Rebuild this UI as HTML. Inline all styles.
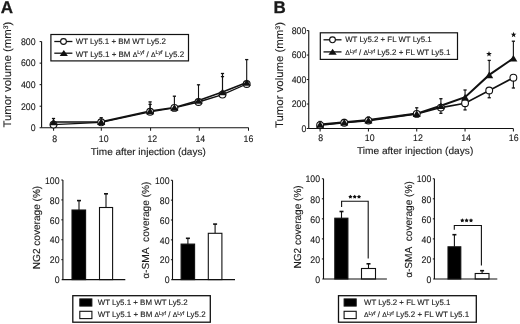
<!DOCTYPE html><html><head><meta charset="utf-8"><style>html,body{margin:0;padding:0;background:#fff;}svg{display:block;filter:grayscale(1);}text{font-family:"Liberation Sans",sans-serif;text-rendering:geometricPrecision;fill:#1a1a1a;stroke:#1a1a1a;stroke-width:0.12px;}</style></head><body>
<svg width="520" height="324" viewBox="0 0 520 324">
<rect width="520" height="324" fill="#fff"/>
<text x="0.80" y="13.30" font-size="17" text-anchor="start" font-weight="bold" style="stroke-width:0.3px">A</text>
<text x="273.60" y="13.00" font-size="17" text-anchor="start" font-weight="bold" style="stroke-width:0.3px">B</text>
<line x1="41.60" y1="41.60" x2="41.60" y2="127.75" stroke="#111" stroke-width="1.1"/>
<line x1="39.60" y1="127.75" x2="41.60" y2="127.75" stroke="#111" stroke-width="1"/>
<text transform="translate(35.60,131.05) scale(0.92,1)" font-size="9.5" text-anchor="end">0</text>
<line x1="39.60" y1="106.21" x2="41.60" y2="106.21" stroke="#111" stroke-width="1"/>
<text transform="translate(35.60,109.51) scale(0.92,1)" font-size="9.5" text-anchor="end">200</text>
<line x1="39.60" y1="84.67" x2="41.60" y2="84.67" stroke="#111" stroke-width="1"/>
<text transform="translate(35.60,87.97) scale(0.92,1)" font-size="9.5" text-anchor="end">400</text>
<line x1="39.60" y1="63.14" x2="41.60" y2="63.14" stroke="#111" stroke-width="1"/>
<text transform="translate(35.60,66.44) scale(0.92,1)" font-size="9.5" text-anchor="end">600</text>
<line x1="39.60" y1="41.60" x2="41.60" y2="41.60" stroke="#111" stroke-width="1"/>
<text transform="translate(35.60,44.90) scale(0.92,1)" font-size="9.5" text-anchor="end">800</text>
<line x1="41.60" y1="127.75" x2="248.60" y2="127.75" stroke="#111" stroke-width="1.2"/>
<line x1="53.60" y1="127.75" x2="53.60" y2="130.75" stroke="#111" stroke-width="1"/>
<text transform="translate(54.70,141.80) scale(0.92,1)" font-size="9.5" text-anchor="middle">8</text>
<line x1="101.30" y1="127.75" x2="101.30" y2="130.75" stroke="#111" stroke-width="1"/>
<text transform="translate(103.70,141.80) scale(0.92,1)" font-size="9.5" text-anchor="middle">10</text>
<line x1="150.60" y1="127.75" x2="150.60" y2="130.75" stroke="#111" stroke-width="1"/>
<text transform="translate(152.30,141.80) scale(0.92,1)" font-size="9.5" text-anchor="middle">12</text>
<line x1="199.30" y1="127.75" x2="199.30" y2="130.75" stroke="#111" stroke-width="1"/>
<text transform="translate(200.30,141.80) scale(0.92,1)" font-size="9.5" text-anchor="middle">14</text>
<line x1="248.50" y1="127.75" x2="248.50" y2="130.75" stroke="#111" stroke-width="1"/>
<text transform="translate(248.40,141.80) scale(0.92,1)" font-size="9.5" text-anchor="middle">16</text>
<text transform="translate(11.1,127.6) rotate(-90)" font-size="10.9" textLength="106" lengthAdjust="spacingAndGlyphs">Tumor volume (mm<tspan font-size="6.6" dy="-3.4">3</tspan><tspan dy="3.4">)</tspan></text>
<text x="90.80" y="154.75" font-size="9.9" text-anchor="start" font-weight="normal" textLength="115.0" lengthAdjust="spacingAndGlyphs">Time after injection (days)</text>
<line x1="53.50" y1="122.00" x2="53.50" y2="118.50" stroke="#111" stroke-width="1.1"/>
<line x1="51.90" y1="118.50" x2="55.10" y2="118.50" stroke="#111" stroke-width="1.3"/>
<line x1="101.20" y1="121.80" x2="101.20" y2="117.70" stroke="#111" stroke-width="1.1"/>
<line x1="99.60" y1="117.70" x2="102.80" y2="117.70" stroke="#111" stroke-width="1.3"/>
<line x1="150.10" y1="111.00" x2="150.10" y2="101.90" stroke="#111" stroke-width="1.1"/>
<line x1="148.50" y1="101.90" x2="151.70" y2="101.90" stroke="#111" stroke-width="1.3"/>
<line x1="150.10" y1="111.00" x2="150.10" y2="104.40" stroke="#111" stroke-width="1.1"/>
<line x1="148.50" y1="104.40" x2="151.70" y2="104.40" stroke="#111" stroke-width="1.3"/>
<line x1="174.40" y1="107.50" x2="174.40" y2="96.20" stroke="#111" stroke-width="1.1"/>
<line x1="172.80" y1="96.20" x2="176.00" y2="96.20" stroke="#111" stroke-width="1.3"/>
<line x1="198.50" y1="100.50" x2="198.50" y2="84.80" stroke="#111" stroke-width="1.1"/>
<line x1="196.90" y1="84.80" x2="200.10" y2="84.80" stroke="#111" stroke-width="1.3"/>
<line x1="222.50" y1="92.00" x2="222.50" y2="73.50" stroke="#111" stroke-width="1.1"/>
<line x1="220.90" y1="73.50" x2="224.10" y2="73.50" stroke="#111" stroke-width="1.3"/>
<line x1="222.50" y1="92.00" x2="222.50" y2="76.60" stroke="#111" stroke-width="1.1"/>
<line x1="220.90" y1="76.60" x2="224.10" y2="76.60" stroke="#111" stroke-width="1.3"/>
<line x1="246.70" y1="82.50" x2="246.70" y2="59.60" stroke="#111" stroke-width="1.1"/>
<line x1="245.10" y1="59.60" x2="248.30" y2="59.60" stroke="#111" stroke-width="1.3"/>
<polyline points="53.50,124.60 101.20,122.30 150.10,111.80 174.40,107.90 198.50,102.00 222.50,94.60 246.70,84.00" fill="none" stroke="#111" stroke-width="1.35"/>
<polyline points="53.50,122.00 101.20,121.80 150.10,111.00 174.40,107.50 198.50,100.50 222.50,92.00 246.70,82.50" fill="none" stroke="#111" stroke-width="1.7"/>
<circle cx="53.50" cy="124.60" r="3.4" fill="#fff" stroke="#111" stroke-width="1.1"/>
<circle cx="101.20" cy="122.30" r="3.4" fill="#fff" stroke="#111" stroke-width="1.1"/>
<circle cx="150.10" cy="111.80" r="3.4" fill="#fff" stroke="#111" stroke-width="1.1"/>
<circle cx="174.40" cy="107.90" r="3.4" fill="#fff" stroke="#111" stroke-width="1.1"/>
<circle cx="198.50" cy="102.00" r="3.4" fill="#fff" stroke="#111" stroke-width="1.1"/>
<circle cx="222.50" cy="94.60" r="3.4" fill="#fff" stroke="#111" stroke-width="1.1"/>
<circle cx="246.70" cy="84.00" r="3.4" fill="#fff" stroke="#111" stroke-width="1.1"/>
<path d="M49.40 125.30 L53.50 118.70 L57.60 125.30 Z" fill="#111"/>
<path d="M97.10 125.10 L101.20 118.50 L105.30 125.10 Z" fill="#111"/>
<path d="M146.00 114.30 L150.10 107.70 L154.20 114.30 Z" fill="#111"/>
<path d="M170.30 110.80 L174.40 104.20 L178.50 110.80 Z" fill="#111"/>
<path d="M194.40 103.80 L198.50 97.20 L202.60 103.80 Z" fill="#111"/>
<path d="M218.40 95.30 L222.50 88.70 L226.60 95.30 Z" fill="#111"/>
<path d="M242.60 85.80 L246.70 79.20 L250.80 85.80 Z" fill="#111"/>
<rect x="50.90" y="34.50" width="137.60" height="26.40" fill="#fff" stroke="#111" stroke-width="1.2"/>
<line x1="54.30" y1="41.50" x2="72.40" y2="41.50" stroke="#111" stroke-width="1.3"/>
<circle cx="63.50" cy="41.50" r="2.9" fill="#fff" stroke="#111" stroke-width="1.1"/>
<line x1="54.30" y1="53.20" x2="72.40" y2="53.20" stroke="#111" stroke-width="1.3"/>
<path d="M59.70 56.10 L63.80 50.10 L67.90 56.10 Z" fill="#111"/>
<text x="75.70" y="44.00" font-size="7.95" text-anchor="start" font-weight="normal" textLength="90.2" lengthAdjust="spacingAndGlyphs">WT Ly5.1 + BM WT Ly5.2</text>
<text x="75.70" y="56.60" font-size="7.95" text-anchor="start" font-weight="normal" textLength="108.4" lengthAdjust="spacingAndGlyphs">WT Ly5.1 + BM <tspan font-size="6.8">Δ</tspan><tspan font-size="5.4" dy="-2.3">Lyf</tspan><tspan dy="2.3"> / </tspan><tspan font-size="6.8">Δ</tspan><tspan font-size="5.4" dy="-2.3">Lyf</tspan><tspan dy="2.3"> Ly5.2</tspan></text>
<line x1="308.75" y1="30.60" x2="308.75" y2="128.50" stroke="#111" stroke-width="1.1"/>
<line x1="306.75" y1="128.50" x2="308.75" y2="128.50" stroke="#111" stroke-width="1"/>
<text transform="translate(306.30,131.80) scale(0.92,1)" font-size="9.5" text-anchor="end">0</text>
<line x1="306.75" y1="104.03" x2="308.75" y2="104.03" stroke="#111" stroke-width="1"/>
<text transform="translate(306.30,107.33) scale(0.92,1)" font-size="9.5" text-anchor="end">200</text>
<line x1="306.75" y1="79.55" x2="308.75" y2="79.55" stroke="#111" stroke-width="1"/>
<text transform="translate(306.30,82.85) scale(0.92,1)" font-size="9.5" text-anchor="end">400</text>
<line x1="306.75" y1="55.07" x2="308.75" y2="55.07" stroke="#111" stroke-width="1"/>
<text transform="translate(306.30,58.37) scale(0.92,1)" font-size="9.5" text-anchor="end">600</text>
<line x1="306.75" y1="30.60" x2="308.75" y2="30.60" stroke="#111" stroke-width="1"/>
<text transform="translate(306.30,33.90) scale(0.92,1)" font-size="9.5" text-anchor="end">800</text>
<line x1="308.75" y1="128.50" x2="513.30" y2="128.50" stroke="#111" stroke-width="1.2"/>
<line x1="320.10" y1="128.50" x2="320.10" y2="131.50" stroke="#111" stroke-width="1"/>
<text transform="translate(320.70,141.20) scale(0.92,1)" font-size="9.5" text-anchor="middle">8</text>
<line x1="368.42" y1="128.50" x2="368.42" y2="131.50" stroke="#111" stroke-width="1"/>
<text transform="translate(369.70,141.20) scale(0.92,1)" font-size="9.5" text-anchor="middle">10</text>
<line x1="416.74" y1="128.50" x2="416.74" y2="131.50" stroke="#111" stroke-width="1"/>
<text transform="translate(417.90,141.20) scale(0.92,1)" font-size="9.5" text-anchor="middle">12</text>
<line x1="465.06" y1="128.50" x2="465.06" y2="131.50" stroke="#111" stroke-width="1"/>
<text transform="translate(466.00,141.20) scale(0.92,1)" font-size="9.5" text-anchor="middle">14</text>
<line x1="513.38" y1="128.50" x2="513.38" y2="131.50" stroke="#111" stroke-width="1"/>
<text transform="translate(513.70,141.20) scale(0.92,1)" font-size="9.5" text-anchor="middle">16</text>
<text transform="translate(283.4,128.0) rotate(-90)" font-size="10.9" textLength="106" lengthAdjust="spacingAndGlyphs">Tumor volume (mm<tspan font-size="6.6" dy="-3.4">3</tspan><tspan dy="3.4">)</tspan></text>
<text x="356.90" y="154.30" font-size="9.9" text-anchor="start" font-weight="normal" textLength="116.4" lengthAdjust="spacingAndGlyphs">Time after injection (days)</text>
<line x1="320.10" y1="124.50" x2="320.10" y2="121.50" stroke="#111" stroke-width="1.1"/>
<line x1="318.50" y1="121.50" x2="321.70" y2="121.50" stroke="#111" stroke-width="1.3"/>
<line x1="344.26" y1="122.20" x2="344.26" y2="119.50" stroke="#111" stroke-width="1.1"/>
<line x1="342.66" y1="119.50" x2="345.86" y2="119.50" stroke="#111" stroke-width="1.3"/>
<line x1="368.42" y1="120.10" x2="368.42" y2="117.00" stroke="#111" stroke-width="1.1"/>
<line x1="366.82" y1="117.00" x2="370.02" y2="117.00" stroke="#111" stroke-width="1.3"/>
<line x1="416.74" y1="113.60" x2="416.74" y2="107.80" stroke="#111" stroke-width="1.1"/>
<line x1="415.14" y1="107.80" x2="418.34" y2="107.80" stroke="#111" stroke-width="1.3"/>
<line x1="440.90" y1="105.80" x2="440.90" y2="98.70" stroke="#111" stroke-width="1.1"/>
<line x1="439.30" y1="98.70" x2="442.50" y2="98.70" stroke="#111" stroke-width="1.3"/>
<line x1="465.06" y1="97.20" x2="465.06" y2="90.00" stroke="#111" stroke-width="1.1"/>
<line x1="463.46" y1="90.00" x2="466.66" y2="90.00" stroke="#111" stroke-width="1.3"/>
<line x1="489.22" y1="74.90" x2="489.22" y2="60.40" stroke="#111" stroke-width="1.1"/>
<line x1="487.62" y1="60.40" x2="490.82" y2="60.40" stroke="#111" stroke-width="1.3"/>
<line x1="513.38" y1="58.30" x2="513.38" y2="41.20" stroke="#111" stroke-width="1.1"/>
<line x1="511.78" y1="41.20" x2="514.98" y2="41.20" stroke="#111" stroke-width="1.3"/>
<line x1="416.74" y1="113.90" x2="416.74" y2="116.50" stroke="#111" stroke-width="1.1"/>
<line x1="415.14" y1="116.50" x2="418.34" y2="116.50" stroke="#111" stroke-width="1.3"/>
<line x1="440.90" y1="107.60" x2="440.90" y2="113.30" stroke="#111" stroke-width="1.1"/>
<line x1="439.30" y1="113.30" x2="442.50" y2="113.30" stroke="#111" stroke-width="1.3"/>
<line x1="465.06" y1="103.20" x2="465.06" y2="109.90" stroke="#111" stroke-width="1.1"/>
<line x1="463.46" y1="109.90" x2="466.66" y2="109.90" stroke="#111" stroke-width="1.3"/>
<line x1="489.22" y1="90.50" x2="489.22" y2="97.75" stroke="#111" stroke-width="1.1"/>
<line x1="487.62" y1="97.75" x2="490.82" y2="97.75" stroke="#111" stroke-width="1.3"/>
<line x1="513.38" y1="77.70" x2="513.38" y2="88.00" stroke="#111" stroke-width="1.1"/>
<line x1="511.78" y1="88.00" x2="514.98" y2="88.00" stroke="#111" stroke-width="1.3"/>
<polyline points="320.10,125.20 344.26,122.80 368.42,120.60 416.74,113.90 440.90,107.60 465.06,103.20 489.22,90.50 513.38,77.70" fill="none" stroke="#111" stroke-width="1.6"/>
<polyline points="320.10,124.50 344.26,122.20 368.42,120.10 416.74,113.60 440.90,105.80 465.06,97.20 489.22,74.90 513.38,58.30" fill="none" stroke="#111" stroke-width="2.0"/>
<circle cx="320.10" cy="125.20" r="3.4" fill="#fff" stroke="#111" stroke-width="1.1"/>
<circle cx="344.26" cy="122.80" r="3.4" fill="#fff" stroke="#111" stroke-width="1.1"/>
<circle cx="368.42" cy="120.60" r="3.4" fill="#fff" stroke="#111" stroke-width="1.1"/>
<circle cx="416.74" cy="113.90" r="3.4" fill="#fff" stroke="#111" stroke-width="1.1"/>
<circle cx="440.90" cy="107.60" r="3.4" fill="#fff" stroke="#111" stroke-width="1.1"/>
<circle cx="465.06" cy="103.20" r="3.4" fill="#fff" stroke="#111" stroke-width="1.1"/>
<circle cx="489.22" cy="90.50" r="3.4" fill="#fff" stroke="#111" stroke-width="1.1"/>
<circle cx="513.38" cy="77.70" r="3.4" fill="#fff" stroke="#111" stroke-width="1.1"/>
<path d="M316.10 127.80 L320.10 121.20 L324.10 127.80 Z" fill="#111"/>
<path d="M340.26 125.50 L344.26 118.90 L348.26 125.50 Z" fill="#111"/>
<path d="M364.42 123.40 L368.42 116.80 L372.42 123.40 Z" fill="#111"/>
<path d="M412.74 116.90 L416.74 110.30 L420.74 116.90 Z" fill="#111"/>
<path d="M436.90 109.10 L440.90 102.50 L444.90 109.10 Z" fill="#111"/>
<path d="M461.06 100.50 L465.06 93.90 L469.06 100.50 Z" fill="#111"/>
<path d="M485.22 78.20 L489.22 71.60 L493.22 78.20 Z" fill="#111"/>
<path d="M509.38 61.60 L513.38 55.00 L517.38 61.60 Z" fill="#111"/>
<polygon points="489.00,51.00 489.73,52.99 491.85,53.07 490.19,54.39 490.76,56.43 489.00,55.25 487.24,56.43 487.81,54.39 486.15,53.07 488.27,52.99" fill="#111"/>
<polygon points="513.60,31.70 514.33,33.69 516.45,33.77 514.79,35.09 515.36,37.13 513.60,35.95 511.84,37.13 512.41,35.09 510.75,33.77 512.87,33.69" fill="#111"/>
<rect x="320.30" y="32.80" width="137.20" height="26.60" fill="#fff" stroke="#111" stroke-width="1.2"/>
<line x1="323.50" y1="39.80" x2="341.50" y2="39.80" stroke="#111" stroke-width="1.3"/>
<circle cx="332.50" cy="39.80" r="2.9" fill="#fff" stroke="#111" stroke-width="1.1"/>
<line x1="323.50" y1="51.90" x2="341.50" y2="51.90" stroke="#111" stroke-width="1.3"/>
<path d="M328.50 54.80 L332.60 48.80 L336.70 54.80 Z" fill="#111"/>
<text x="345.20" y="42.40" font-size="7.95" text-anchor="start" font-weight="normal" textLength="86.4" lengthAdjust="spacingAndGlyphs">WT Ly5.2 + FL WT Ly5.1</text>
<text x="345.20" y="54.90" font-size="7.95" text-anchor="start" font-weight="normal" textLength="105.2" lengthAdjust="spacingAndGlyphs"><tspan font-size="6.8">Δ</tspan><tspan font-size="5.4" dy="-2.3">Lyf</tspan><tspan dy="2.3"> / </tspan><tspan font-size="6.8">Δ</tspan><tspan font-size="5.4" dy="-2.3">Lyf</tspan><tspan dy="2.3"> Ly5.2 + FL WT Ly5.1</tspan></text>
<line x1="62.90" y1="180.00" x2="62.90" y2="279.60" stroke="#111" stroke-width="1.1"/>
<text transform="translate(59.60,283.30) scale(0.92,1)" font-size="9.5" text-anchor="end">0</text>
<line x1="61.30" y1="259.68" x2="62.90" y2="259.68" stroke="#111" stroke-width="1"/>
<text transform="translate(59.60,263.38) scale(0.92,1)" font-size="9.5" text-anchor="end">20</text>
<line x1="61.30" y1="239.76" x2="62.90" y2="239.76" stroke="#111" stroke-width="1"/>
<text transform="translate(59.60,243.46) scale(0.92,1)" font-size="9.5" text-anchor="end">40</text>
<line x1="61.30" y1="219.84" x2="62.90" y2="219.84" stroke="#111" stroke-width="1"/>
<text transform="translate(59.60,223.54) scale(0.92,1)" font-size="9.5" text-anchor="end">60</text>
<line x1="61.30" y1="199.92" x2="62.90" y2="199.92" stroke="#111" stroke-width="1"/>
<text transform="translate(59.60,203.62) scale(0.92,1)" font-size="9.5" text-anchor="end">80</text>
<line x1="61.30" y1="180.00" x2="62.90" y2="180.00" stroke="#111" stroke-width="1"/>
<text transform="translate(59.60,183.70) scale(0.92,1)" font-size="9.5" text-anchor="end">100</text>
<line x1="79.00" y1="210.00" x2="79.00" y2="200.60" stroke="#111" stroke-width="1.1"/>
<line x1="77.00" y1="200.60" x2="81.00" y2="200.60" stroke="#111" stroke-width="1.6"/>
<rect x="72.00" y="210.00" width="13.60" height="69.60" fill="#000" stroke="#111" stroke-width="1.1"/>
<line x1="106.00" y1="207.50" x2="106.00" y2="193.80" stroke="#111" stroke-width="1.1"/>
<line x1="104.00" y1="193.80" x2="108.00" y2="193.80" stroke="#111" stroke-width="1.6"/>
<rect x="99.50" y="207.50" width="13.10" height="72.10" fill="#fff" stroke="#111" stroke-width="1.1"/>
<line x1="61.70" y1="279.60" x2="125.30" y2="279.60" stroke="#111" stroke-width="1.2"/>
<text transform="translate(39.9,269.2) rotate(-90)" font-size="10.2" textLength="83.4" lengthAdjust="spacingAndGlyphs">NG2 coverage (%)</text>
<line x1="172.50" y1="180.25" x2="172.50" y2="279.60" stroke="#111" stroke-width="1.1"/>
<text transform="translate(169.50,283.30) scale(0.92,1)" font-size="9.5" text-anchor="end">0</text>
<line x1="170.90" y1="259.73" x2="172.50" y2="259.73" stroke="#111" stroke-width="1"/>
<text transform="translate(169.50,263.43) scale(0.92,1)" font-size="9.5" text-anchor="end">20</text>
<line x1="170.90" y1="239.86" x2="172.50" y2="239.86" stroke="#111" stroke-width="1"/>
<text transform="translate(169.50,243.56) scale(0.92,1)" font-size="9.5" text-anchor="end">40</text>
<line x1="170.90" y1="219.99" x2="172.50" y2="219.99" stroke="#111" stroke-width="1"/>
<text transform="translate(169.50,223.69) scale(0.92,1)" font-size="9.5" text-anchor="end">60</text>
<line x1="170.90" y1="200.12" x2="172.50" y2="200.12" stroke="#111" stroke-width="1"/>
<text transform="translate(169.50,203.82) scale(0.92,1)" font-size="9.5" text-anchor="end">80</text>
<line x1="170.90" y1="180.25" x2="172.50" y2="180.25" stroke="#111" stroke-width="1"/>
<text transform="translate(169.50,183.95) scale(0.92,1)" font-size="9.5" text-anchor="end">100</text>
<line x1="187.90" y1="244.10" x2="187.90" y2="238.30" stroke="#111" stroke-width="1.1"/>
<line x1="185.90" y1="238.30" x2="189.90" y2="238.30" stroke="#111" stroke-width="1.6"/>
<rect x="181.10" y="244.10" width="13.50" height="35.50" fill="#000" stroke="#111" stroke-width="1.1"/>
<line x1="215.10" y1="233.30" x2="215.10" y2="224.10" stroke="#111" stroke-width="1.1"/>
<line x1="213.10" y1="224.10" x2="217.10" y2="224.10" stroke="#111" stroke-width="1.6"/>
<rect x="208.30" y="233.30" width="13.60" height="46.30" fill="#fff" stroke="#111" stroke-width="1.1"/>
<line x1="171.30" y1="279.60" x2="235.00" y2="279.60" stroke="#111" stroke-width="1.2"/>
<text transform="translate(149.4,278.5) rotate(-90)" font-size="10.2" textLength="97" lengthAdjust="spacingAndGlyphs"><tspan font-size="9.6">α</tspan>-SMA&#160; coverage (%)</text>
<line x1="323.50" y1="178.75" x2="323.50" y2="279.00" stroke="#111" stroke-width="1.1"/>
<text transform="translate(320.10,282.70) scale(0.92,1)" font-size="9.5" text-anchor="end">0</text>
<line x1="321.90" y1="258.95" x2="323.50" y2="258.95" stroke="#111" stroke-width="1"/>
<text transform="translate(320.10,262.65) scale(0.92,1)" font-size="9.5" text-anchor="end">20</text>
<line x1="321.90" y1="238.90" x2="323.50" y2="238.90" stroke="#111" stroke-width="1"/>
<text transform="translate(320.10,242.60) scale(0.92,1)" font-size="9.5" text-anchor="end">40</text>
<line x1="321.90" y1="218.85" x2="323.50" y2="218.85" stroke="#111" stroke-width="1"/>
<text transform="translate(320.10,222.55) scale(0.92,1)" font-size="9.5" text-anchor="end">60</text>
<line x1="321.90" y1="198.80" x2="323.50" y2="198.80" stroke="#111" stroke-width="1"/>
<text transform="translate(320.10,202.50) scale(0.92,1)" font-size="9.5" text-anchor="end">80</text>
<line x1="321.90" y1="178.75" x2="323.50" y2="178.75" stroke="#111" stroke-width="1"/>
<text transform="translate(320.10,182.45) scale(0.92,1)" font-size="9.5" text-anchor="end">100</text>
<line x1="341.50" y1="218.20" x2="341.50" y2="211.50" stroke="#111" stroke-width="1.1"/>
<line x1="339.50" y1="211.50" x2="343.50" y2="211.50" stroke="#111" stroke-width="1.6"/>
<rect x="334.80" y="218.20" width="13.10" height="60.80" fill="#000" stroke="#111" stroke-width="1.1"/>
<line x1="368.50" y1="268.50" x2="368.50" y2="263.80" stroke="#111" stroke-width="1.1"/>
<line x1="366.50" y1="263.80" x2="370.50" y2="263.80" stroke="#111" stroke-width="1.6"/>
<rect x="361.50" y="268.50" width="14.00" height="10.50" fill="#fff" stroke="#111" stroke-width="1.1"/>
<line x1="322.30" y1="279.00" x2="386.90" y2="279.00" stroke="#111" stroke-width="1.2"/>
<text transform="translate(301.1,268.5) rotate(-90)" font-size="10.2" textLength="83.2" lengthAdjust="spacingAndGlyphs">NG2 coverage (%)</text>
<line x1="434.40" y1="178.75" x2="434.40" y2="279.00" stroke="#111" stroke-width="1.1"/>
<text transform="translate(431.30,282.70) scale(0.92,1)" font-size="9.5" text-anchor="end">0</text>
<line x1="432.80" y1="258.95" x2="434.40" y2="258.95" stroke="#111" stroke-width="1"/>
<text transform="translate(431.30,262.65) scale(0.92,1)" font-size="9.5" text-anchor="end">20</text>
<line x1="432.80" y1="238.90" x2="434.40" y2="238.90" stroke="#111" stroke-width="1"/>
<text transform="translate(431.30,242.60) scale(0.92,1)" font-size="9.5" text-anchor="end">40</text>
<line x1="432.80" y1="218.85" x2="434.40" y2="218.85" stroke="#111" stroke-width="1"/>
<text transform="translate(431.30,222.55) scale(0.92,1)" font-size="9.5" text-anchor="end">60</text>
<line x1="432.80" y1="198.80" x2="434.40" y2="198.80" stroke="#111" stroke-width="1"/>
<text transform="translate(431.30,202.50) scale(0.92,1)" font-size="9.5" text-anchor="end">80</text>
<line x1="432.80" y1="178.75" x2="434.40" y2="178.75" stroke="#111" stroke-width="1"/>
<text transform="translate(431.30,182.45) scale(0.92,1)" font-size="9.5" text-anchor="end">100</text>
<line x1="454.40" y1="246.80" x2="454.40" y2="234.70" stroke="#111" stroke-width="1.1"/>
<line x1="452.40" y1="234.70" x2="456.40" y2="234.70" stroke="#111" stroke-width="1.6"/>
<rect x="448.00" y="246.80" width="12.80" height="32.20" fill="#000" stroke="#111" stroke-width="1.1"/>
<line x1="482.10" y1="273.50" x2="482.10" y2="270.70" stroke="#111" stroke-width="1.1"/>
<line x1="480.10" y1="270.70" x2="484.10" y2="270.70" stroke="#111" stroke-width="1.6"/>
<rect x="475.20" y="273.50" width="13.80" height="5.50" fill="#fff" stroke="#111" stroke-width="1.1"/>
<line x1="433.20" y1="279.00" x2="497.30" y2="279.00" stroke="#111" stroke-width="1.2"/>
<text transform="translate(411.6,277.6) rotate(-90)" font-size="10.2" textLength="96.4" lengthAdjust="spacingAndGlyphs"><tspan font-size="9.6">α</tspan>-SMA&#160; coverage (%)</text>
<path d="M341.6 207.0 V201.3 H368.2 V258.5" fill="none" stroke="#111" stroke-width="1.1"/>
<polygon points="350.40,194.65 351.13,195.79 352.44,196.14 351.59,197.19 351.66,198.54 350.40,198.05 349.14,198.54 349.21,197.19 348.36,196.14 349.67,195.79" fill="#111"/>
<polygon points="354.70,194.65 355.43,195.79 356.74,196.14 355.89,197.19 355.96,198.54 354.70,198.05 353.44,198.54 353.51,197.19 352.66,196.14 353.97,195.79" fill="#111"/>
<polygon points="359.00,194.65 359.73,195.79 361.04,196.14 360.19,197.19 360.26,198.54 359.00,198.05 357.74,198.54 357.81,197.19 356.96,196.14 358.27,195.79" fill="#111"/>
<path d="M454.3 229.8 V225.5 H481.4 V265.4" fill="none" stroke="#111" stroke-width="1.1"/>
<polygon points="462.30,218.35 463.03,219.49 464.34,219.84 463.49,220.89 463.56,222.24 462.30,221.75 461.04,222.24 461.11,220.89 460.26,219.84 461.57,219.49" fill="#111"/>
<polygon points="466.60,218.35 467.33,219.49 468.64,219.84 467.79,220.89 467.86,222.24 466.60,221.75 465.34,222.24 465.41,220.89 464.56,219.84 465.87,219.49" fill="#111"/>
<polygon points="471.00,218.35 471.73,219.49 473.04,219.84 472.19,220.89 472.26,222.24 471.00,221.75 469.74,222.24 469.81,220.89 468.96,219.84 470.27,219.49" fill="#111"/>
<rect x="72.80" y="295.70" width="137.50" height="26.50" fill="#fff" stroke="#111" stroke-width="1.3"/>
<rect x="79.80" y="298.90" width="12.10" height="7.20" fill="#000" stroke="#111" stroke-width="1.0"/>
<rect x="79.80" y="311.30" width="12.10" height="7.30" fill="#fff" stroke="#111" stroke-width="1.1"/>
<text x="97.70" y="305.10" font-size="7.95" text-anchor="start" font-weight="normal" textLength="89.9" lengthAdjust="spacingAndGlyphs">WT Ly5.1 + BM WT Ly5.2</text>
<text x="97.70" y="317.00" font-size="7.95" text-anchor="start" font-weight="normal" textLength="107.9" lengthAdjust="spacingAndGlyphs">WT Ly5.1 + BM <tspan font-size="6.8">Δ</tspan><tspan font-size="5.4" dy="-2.3">Lyf</tspan><tspan dy="2.3"> / </tspan><tspan font-size="6.8">Δ</tspan><tspan font-size="5.4" dy="-2.3">Lyf</tspan><tspan dy="2.3"> Ly5.2</tspan></text>
<rect x="338.50" y="295.70" width="137.80" height="26.50" fill="#fff" stroke="#111" stroke-width="1.3"/>
<rect x="344.10" y="298.90" width="12.10" height="7.20" fill="#000" stroke="#111" stroke-width="1.0"/>
<rect x="344.10" y="311.30" width="12.10" height="7.30" fill="#fff" stroke="#111" stroke-width="1.1"/>
<text x="364.00" y="305.10" font-size="7.95" text-anchor="start" font-weight="normal" textLength="86.4" lengthAdjust="spacingAndGlyphs">WT Ly5.2 + FL WT Ly5.1</text>
<text x="364.00" y="317.00" font-size="7.95" text-anchor="start" font-weight="normal" textLength="105.2" lengthAdjust="spacingAndGlyphs"><tspan font-size="6.8">Δ</tspan><tspan font-size="5.4" dy="-2.3">Lyf</tspan><tspan dy="2.3"> / </tspan><tspan font-size="6.8">Δ</tspan><tspan font-size="5.4" dy="-2.3">Lyf</tspan><tspan dy="2.3"> Ly5.2 + FL WT Ly5.1</tspan></text>
</svg></body></html>
